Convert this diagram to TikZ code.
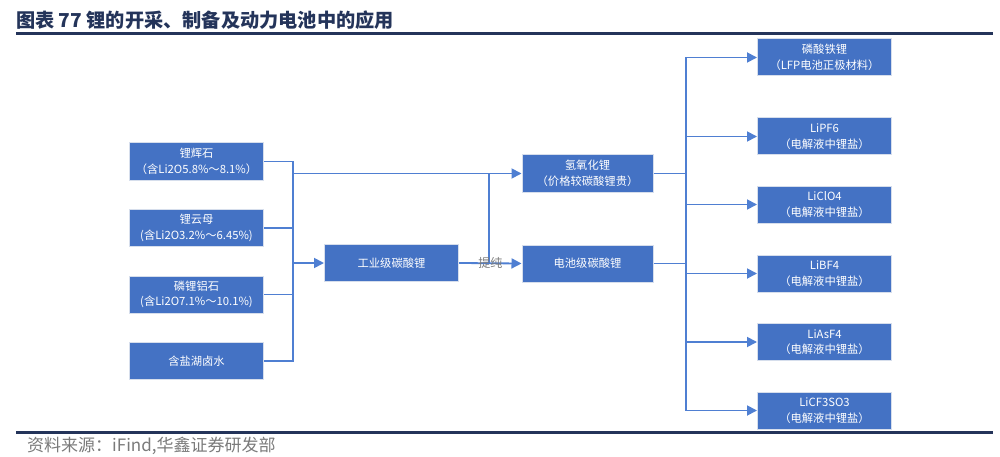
\documentclass[tikz,border=0pt]{standalone}
\usepackage{fontspec}
\newfontfamily\cjk{Noto Sans CJK SC}
\usetikzlibrary{arrows.meta}
\definecolor{boxblue}{HTML}{4472C4}
\definecolor{lineblue}{HTML}{4F7FD2}
\definecolor{navy}{HTML}{24345A}
\definecolor{rim}{HTML}{D6DEEC}
\definecolor{srcgray}{HTML}{7A7A7A}
\begin{document}
\begin{tikzpicture}[x=1pt, y=-1pt,
  box/.style={rectangle, draw=rim, line width=1pt, fill=boxblue, text=white, align=center, inner sep=0pt, minimum width=134pt, minimum height=37pt, font=\cjk\fontsize{11.3}{15.5}\selectfont},
  link/.style={draw=lineblue, line width=1.8pt},
  arr/.style={link, -{Triangle[length=10pt,width=10pt]}}]
\useasboundingbox (0,0) rectangle (1000,457);
\node[anchor=west, inner sep=0pt, text=navy, font=\cjk\bfseries\fontsize{19.2}{21}\selectfont] (title) at (16,20) {图表 77 锂的开采、制备及动力电池中的应用};
\draw[navy, line width=3pt] (16,34) -- (993,34);
\draw[navy, line width=3pt] (16,432.5) -- (993,432.5);
\node[anchor=west, inner sep=0pt, text=srcgray, font=\cjk\fontsize{17}{19}\selectfont] (src) at (27,445.5) {资料来源：iFind,华鑫证券研发部};

\node[box] (Spod) at (196.5,161.5) {锂辉石\\（含Li2O5.8\%～8.1\%）};
\node[box] (Lepi) at (196.5,228) {锂云母\\(含Li2O3.2\%～6.45\%)};
\node[box] (Ambl) at (196.5,294.5) {磷锂铝石\\(含Li2O7.1\%～10.1\%)};
\node[box] (Brine) at (196.5,361) {含盐湖卤水};
\node[box] (Ind) at (391.5,263) {工业级碳酸锂};
\node[box, minimum width=131pt] (LiOH) at (587.5,173.5) {氢氧化锂\\（价格较碳酸锂贵）};
\node[box, minimum width=131pt] (Batt) at (587.5,263.5) {电池级碳酸锂};
\node[box] (LFP) at (824.5,57.5) {磷酸铁锂\\（LFP电池正极材料）};
\node[box] (PF) at (824.5,136.5) {LiPF6\\（电解液中锂盐）};
\node[box] (ClO) at (824.5,204.5) {LiClO4\\（电解液中锂盐）};
\node[box] (BF) at (824.5,273.5) {LiBF4\\（电解液中锂盐）};
\node[box] (AsF) at (824.5,342) {LiAsF4\\（电解液中锂盐）};
\node[box] (CFS) at (824.5,410.5) {LiCF3SO3\\（电解液中锂盐）};

\coordinate (busL) at (293,0);
\coordinate (busM) at (489,0);
\coordinate (busR) at (686,0);

\draw[link] (Spod.east) -- (Spod.east -| busL) -- (Brine.east -| busL) -- (Brine.east);
\draw[link] (Lepi.east) -- (Lepi.east -| busL);
\draw[link] (Ambl.east) -- (Ambl.east -| busL);
\draw[arr] (Ind.west -| busL) -- (Ind.west);
\draw[arr] (LiOH.west -| busL) -- (LiOH.west);
\draw[link] (Ind.east -| busM) -- (LiOH.west -| busM);
\draw[arr] (Ind.east) -- node[text=srcgray, font=\cjk\fontsize{12}{13}\selectfont] {提纯} (Batt.west);

\draw[link] (LiOH.east) -- (LiOH.east -| busR);
\draw[link] (Batt.east) -- (Batt.east -| busR);
\draw[link] (LFP.west -| busR) -- (CFS.west -| busR);
\draw[arr] (LFP.west -| busR) -- (LFP.west);
\draw[arr] (PF.west -| busR) -- (PF.west);
\draw[arr] (ClO.west -| busR) -- (ClO.west);
\draw[arr] (BF.west -| busR) -- (BF.west);
\draw[arr] (AsF.west -| busR) -- (AsF.west);
\draw[arr] (CFS.west -| busR) -- (CFS.west);
\end{tikzpicture}
\end{document}
